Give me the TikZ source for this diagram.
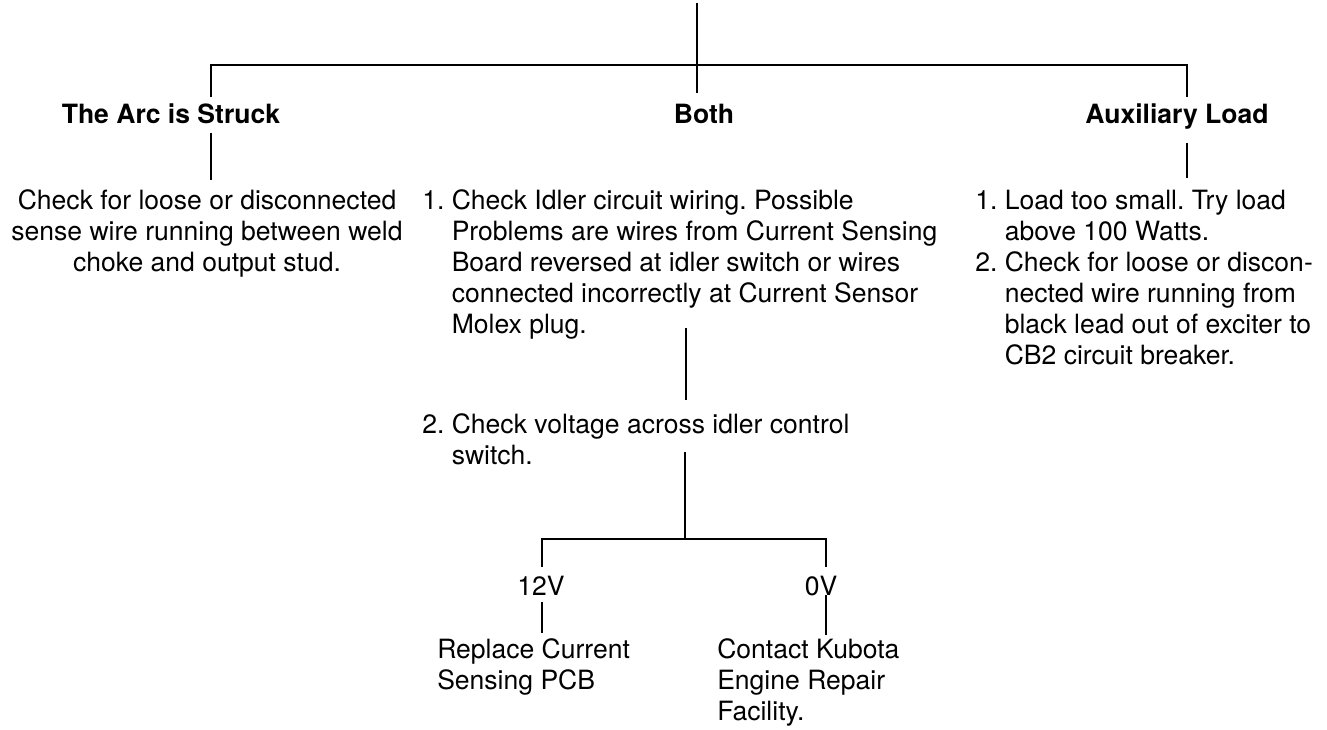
\documentclass[tikz,border=0pt]{standalone}
\usepackage{fontspec}
\setmainfont{TeX Gyre Heros}
\frenchspacing
\begin{document}
\begin{tikzpicture}[x=0.75pt,y=-0.75pt,
  txt/.style={inner sep=0pt, font=\fontsize{19.9pt}{23.25pt}\selectfont},
  lbl/.style={inner sep=0pt, font=\fontsize{19.9pt}{23.25pt}\selectfont\bfseries, anchor=base},
  link/.style={draw=black, line width=1.65pt}]
\useasboundingbox (0,0) rectangle (1327,730);

% labels
\node[lbl] (arc) at (171,124) {The Arc is Struck};
\node[lbl] (both) at (704,124) {Both};
\node[lbl] (aux) at (1177,124) {Auxiliary Load};

% texts
\node[txt, anchor=base] (arctext) at (207,210) {\begin{tabular}[t]{@{}c@{}}Check for loose or disconnected\\ sense wire running between weld\\ choke and output stud.\end{tabular}};

\node[txt, anchor=base west] (bothtext) at (422,210) {\begin{tabular}[t]{@{}r@{\ }l@{}}1.& Check Idler circuit wiring. Possible\\ & Problems are wires from Current Sensing\\ & Board reversed at idler switch or wires\\ & connected incorrectly at Current Sensor\\ & Molex plug.\end{tabular}};

\node[txt, anchor=base west] (volt) at (422,434) {\begin{tabular}[t]{@{}r@{\ }l@{}}2.& Check voltage across idler control\\ & switch.\end{tabular}};

\node[txt, anchor=base west] (auxtext) at (975,210) {\begin{tabular}[t]{@{}r@{\ }l@{}}1.& Load too small. Try load\\ & above 100 Watts.\\ 2.& Check for loose or discon-\\ & nected wire running from\\ & black lead out of exciter to\\ & CB2 circuit breaker.\end{tabular}};

\node[txt, anchor=base] (v12) at (541,595) {12V};
\node[txt, anchor=base] (v0) at (821,595) {0V};

\node[txt, anchor=base west] (repl) at (437,658) {\begin{tabular}[t]{@{}l@{}}Replace Current\\ Sensing PCB\end{tabular}};
\node[txt, anchor=base west] (kubota) at (717,658) {\begin{tabular}[t]{@{}l@{}}Contact Kubota\\ Engine Repair\\ Facility.\end{tabular}};

% connector points
\coordinate (rtop) at (697,3);
\coordinate (rbot) at (697,93);
\coordinate (hl) at (211,65);
\coordinate (hr) at (1187,65);
\coordinate (ld) at (211,97);
\coordinate (rd) at (1187,97);
\coordinate (l1) at (211,133);
\coordinate (l2) at (211,180);
\coordinate (r1) at (1187,143);
\coordinate (r2) at (1187,178);
\coordinate (m1) at (686,328);
\coordinate (m2) at (686,400);
\coordinate (m3) at (685,452);
\coordinate (m4) at (685,539);
\coordinate (bl) at (542,539);
\coordinate (br) at (826,539);
\coordinate (bl2) at (542,567);
\coordinate (br2) at (826,567);
\coordinate (a1) at (542,602);
\coordinate (a2) at (542,633);
\coordinate (b1) at (826,595);
\coordinate (b2) at (826,635);

% connectors
\draw[link] (rtop) -- (rbot);
\draw[link] (ld) -- (hl) -- (hr) -- (rd);
\draw[link] (l1) -- (l2);
\draw[link] (r1) -- (r2);
\draw[link] (m1) -- (m2);
\draw[link] (m3) -- (m4);
\draw[link] (bl2) -- (bl) -- (br) -- (br2);
\draw[link] (a1) -- (a2);
\draw[link] (b1) -- (b2);
\end{tikzpicture}
\end{document}
